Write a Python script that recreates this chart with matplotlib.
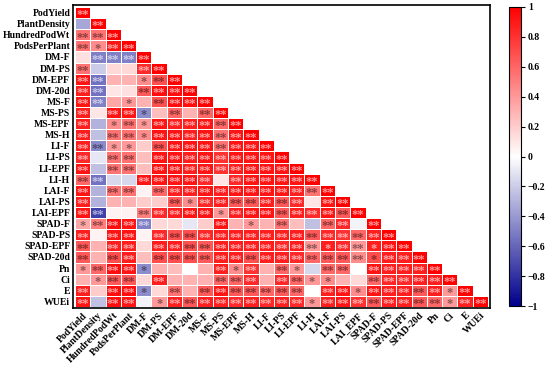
import numpy as np
import matplotlib
matplotlib.use("Agg")
import matplotlib.pyplot as plt
from matplotlib.colors import LinearSegmentedColormap

plt.rcParams['font.family'] = ['Liberation Serif', 'DejaVu Serif']
plt.rcParams['font.weight'] = 'bold'

labels = ["PodYield", "PlantDensity", "HundredPodWt", "PodsPerPlant", "DM-F", "DM-PS",
          "DM-EPF", "DM-20d", "MS-F", "MS-PS", "MS-EPF", "MS-H", "LI-F", "LI-PS", "LI-EPF",
          "LI-H", "LAI-F", "LAI-PS", "LAI-EPF", "SPAD-F", "SPAD-PS", "SPAD-EPF", "SPAD-20d",
          "Pn", "Ci", "E", "WUEi"]
xlabels = labels[:18] + ["LAI_EPF"] + labels[19:]

# lower triangle of correlation coefficients, row by row (diagonal = 1)
r_rows = [
    [1],
    [-0.35, 1],
    [0.55, 0.55, 1],
    [0.55, 0.45, 0.92, 1],
    [0.12, -0.5, -0.5, -0.5, 1],
    [0.55, -0.2, 0.15, 0.15, 0.84, 1],
    [0.92, -0.55, 0.3, 0.3, 0.45, 0.68, 1],
    [0.88, -0.55, 0.1, 0.12, 0.65, 0.95, 0.95, 1],
    [0.92, -0.5, 0.35, 0.4, 0.3, 0.68, 0.95, 0.95, 1],
    [0.88, 0.1, 0.92, 0.92, -0.45, 0.25, 0.6, 0.3, 0.6, 1],
    [0.88, -0.3, 0.45, 0.55, 0.4, 0.92, 0.88, 0.88, 0.92, 0.6, 1],
    [0.88, -0.25, 0.55, 0.55, 0.45, 0.92, 0.92, 0.88, 0.92, 0.55, 0.92, 1],
    [0.88, -0.46, 0.4, 0.4, 0.2, 0.68, 0.92, 0.92, 0.92, 0.55, 0.92, 0.92, 1],
    [0.84, -0.1, 0.55, 0.55, 0.25, 0.92, 0.92, 0.88, 0.92, 0.8, 0.92, 0.92, 0.92, 1],
    [0.92, -0.25, 0.55, 0.55, 0.25, 0.92, 0.92, 0.88, 0.92, 0.8, 0.88, 0.92, 0.92, 0.92, 1],
    [0.6, -0.55, -0.15, -0.15, 0.92, 0.92, 0.92, 0.92, 0.84, 0.1, 0.84, 0.92, 0.92, 0.92, 0.92, 1],
    [0.92, -0.3, 0.55, 0.55, 0.05, 0.6, 0.88, 0.88, 0.92, 0.88, 0.92, 0.92, 0.92, 0.92, 0.88, 0.55, 1],
    [0.88, -0.3, 0.3, 0.3, 0.2, 0.2, 0.65, 0.45, 0.84, 0.88, 0.65, 0.65, 0.88, 0.65, 0.84, 0.1, 0.92, 1],
    [0.92, -0.75, 0.05, 0.05, 0.5, 0.84, 0.88, 0.92, 0.92, 0.4, 0.88, 0.92, 0.92, 0.65, 0.88, 0.84, 0.92, 0.65, 1],
    [0.35, 0.5, 0.95, 0.92, -0.5, 0.15, 0.15, -0.1, 0.2, 0.92, 0.3, 0.4, 0.3, 0.55, 0.25, -0.25, 0.6, 0.84, -0.05, 1],
    [0.88, 0.05, 0.92, 0.92, 0.05, 0.84, 0.68, 0.68, 0.84, 0.88, 0.88, 0.88, 0.88, 0.88, 0.88, 0.65, 0.84, 0.8, 0.6, 0.88, 1],
    [0.65, 0.3, 0.88, 0.88, 0.15, 0.88, 0.88, 0.68, 0.65, 0.88, 0.88, 0.88, 0.88, 0.84, 0.88, 0.4, 0.88, 0.84, 0.4, 0.88, 0.92, 1],
    [0.65, 0.3, 0.7, 0.88, 0.25, 0.7, 0.7, 0.68, 0.65, 0.88, 0.88, 0.68, 0.88, 0.88, 0.84, 0.6, 0.65, 0.65, 0.45, 0.7, 0.88, 0.88, 1],
    [0.4, 0.6, 0.95, 0.92, -0.45, 0.3, 0.25, 0.0, 0.3, 0.88, 0.45, 0.8, 0.3, 0.6, 0.4, -0.15, 0.6, 0.6, 0.0, 0.92, 0.88, 0.88, 0.88, 1],
    [0.3, 0.4, 0.65, 0.65, 0.15, 0.88, 0.3, 0.3, 0.3, 0.6, 0.6, 0.84, 0.3, 0.84, 0.6, 0.4, 0.45, 0.3, 0.15, 0.6, 0.84, 0.84, 0.88, 0.88, 1],
    [0.88, 0.2, 0.95, 0.95, -0.45, 0.15, 0.55, 0.3, 0.65, 0.92, 0.65, 0.65, 0.6, 0.65, 0.6, 0.0, 0.88, 0.92, 0.45, 0.92, 0.88, 0.88, 0.65, 0.88, 0.4, 1],
    [0.92, -0.25, 0.95, 0.92, -0.05, 0.4, 0.88, 0.65, 0.88, 0.88, 0.84, 0.88, 0.84, 0.88, 0.84, 0.4, 0.88, 0.92, 0.8, 0.65, 0.88, 0.88, 0.65, 0.6, 0.4, 0.88, 1],
]

# number of significance stars per cell (0, 1 = p<0.05, 2 = p<0.01)
sig_rows = [
    "2", "02", "222", "2122", "02222", "200022", "2200122", "22002222", "220102222",
    "2022102022", "20121222222", "202212222222", "2211022222222", "20220222222222",
    "202202222222222", "2200222220222222", "20220222222222222", "200000212222222022",
    "2200222221222222222", "12222000020102002202", "202202222222222222222",
    "2022022222222222122122", "20220222222222222221222", "122210000212021022022222",
    "0122020002220221100222222", "20221020222222202212222212", "202201222222222122222222122",
]

n = len(labels)
mat = np.full((n, n), np.nan)
for i, row in enumerate(r_rows):
    mat[i, :len(row)] = row

cmap = LinearSegmentedColormap.from_list("bwr2", [(0, 0, 0.55), (1, 1, 1), (1, 0, 0)])

fig = plt.figure(figsize=(5.5, 3.69), dpi=100)
ax = fig.add_axes([73 / 550, 1 - 308 / 369, 417 / 550, 303 / 369])
mesh = ax.pcolormesh(np.arange(n + 1) - 0.5, np.arange(n + 1) - 0.5, np.ma.masked_invalid(mat),
                     cmap=cmap, vmin=-1, vmax=1, edgecolors='white', linewidth=0.4)

for i, s in enumerate(sig_rows):
    for j, c in enumerate(s):
        k = int(c)
        if k == 0:
            continue
        v = mat[i, j]
        light = v >= 0.75 or v <= -0.48
        color = (1, 1, 1, 0.6) if light else (0, 0, 0, 0.45)
        ax.text(j, i + 0.25, "*" * k, ha='center', va='center', fontsize=9,
                fontweight='bold', color=color)

ax.set_xlim(-0.63, n - 0.37)
ax.set_ylim(n - 0.41, -0.68)
ax.set_xticks(range(n))
ax.set_yticks(range(n))
ax.set_xticklabels(xlabels, rotation=45, ha='right', rotation_mode='anchor', fontsize=7, fontweight='bold')
ax.set_yticklabels(labels, fontsize=7, fontweight='bold')
ax.tick_params(length=0, pad=2)
for sp in ax.spines.values():
    sp.set_linewidth(1.2)

cax = fig.add_axes([509 / 550, 1 - 306 / 369, 12 / 550, 299 / 369])
cb = fig.colorbar(mesh, cax=cax, ticks=np.linspace(-1, 1, 11))
cb.ax.set_yticklabels(["\u22121", "\u22120.8", "\u22120.6", "\u22120.4", "\u22120.2", "0",
                       "0.2", "0.4", "0.6", "0.8", "1"], fontsize=7, fontweight='bold')
cb.ax.tick_params(length=3, width=0.8, pad=2)
cb.outline.set_linewidth(0.8)

fig.savefig("out.png", dpi=100)
